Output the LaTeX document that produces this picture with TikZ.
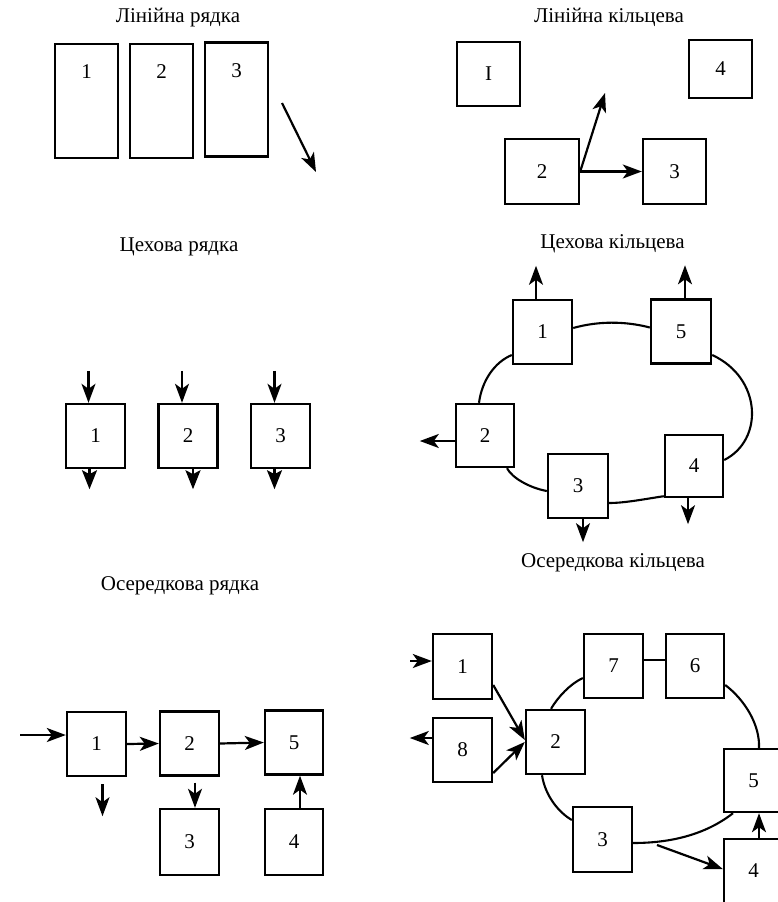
\documentclass[tikz,border=0pt]{standalone}
\usepackage{fontspec}
\setmainfont{Liberation Serif}
\usetikzlibrary{arrows.meta,calc}
\begin{document}
\begin{tikzpicture}[x=1pt,y=-1pt,
  blk/.style={draw, line width=2.4pt, inner sep=0pt, minimum width=59pt,
    minimum height=64pt, font=\fontsize{21}{21}\selectfont},
  ttl/.style={font=\fontsize{21}{24}\selectfont, inner sep=0pt},
  arr/.style={line width=2.2pt, -{Stealth[length=19pt,width=14pt,inset=5pt]}},
  outarr/.style={line width=2.2pt, -{Stealth[length=19pt,width=15pt,inset=4pt]}},
  ring/.style={line width=2.1pt},
]
\useasboundingbox (0,0) rectangle (778,902);
\clip (0,0) rectangle (778,902);

% ---------- Лінійна рядка ----------
\node[ttl] (t1) at (178,18) {Лінійна рядка};
\node[blk, minimum width=63pt, minimum height=114pt,
  label={[anchor=center,yshift=-29pt,font=\fontsize{21}{21}\selectfont]north:1}] (la1) at (86.5,101) {};
\node[blk, minimum width=63pt, minimum height=114pt,
  label={[anchor=center,yshift=-29pt,font=\fontsize{21}{21}\selectfont]north:2}] (la2) at (161.5,101) {};
\node[blk, minimum width=63pt, minimum height=114pt,
  label={[anchor=center,yshift=-29pt,font=\fontsize{21}{21}\selectfont]north:3}] (la3) at (236.5,99.5) {};
\coordinate (d1) at (282,103);
\coordinate (d2) at (316,172);
\draw[arr] (d1) -- (d2);

% ---------- Лінійна кільцева ----------
\node[ttl] (t2) at (609,17) {Лінійна кільцева};
\node[blk, minimum width=63pt, minimum height=64pt] (lb1) at (488.5,74) {I};
\node[blk, minimum width=63pt, minimum height=58pt] (lb4) at (720.5,69) {4};
\node[blk, minimum width=74pt, minimum height=65pt] (lb2) at (542,171.5) {2};
\node[blk, minimum width=63pt, minimum height=65pt] (lb3) at (674.5,171.5) {3};
\coordinate (u1) at (605,93);
\draw[arr] (lb2.east) -- (u1);
\draw[arr] (lb2.east) -- (lb3.west);

% ---------- Цехова рядка ----------
\node[ttl] (t3) at (179,247) {Цехова рядка};
\node[blk] (ma1) at (95.5,436) {1};
\node[blk] (ma2) at (188,436) {2};
\node[blk] (ma3) at (280.5,436) {3};
\foreach \n/\dx in {ma1/-7, ma2/-6, ma3/-6}{
  \draw[arr] ([xshift=\dx pt,yshift=32pt]\n.north) -- ([xshift=\dx pt]\n.north);
}
\foreach \n/\dx in {ma1/-6, ma2/5, ma3/-6}{
  \draw[outarr] ([xshift=\dx pt]\n.south) -- ++(0,20);
}

% ---------- Цехова кільцева ----------
\node[ttl] (t4) at (612.5,244) {Цехова кільцева};
\node[blk] (mb1) at (542.5,332) {1};
\node[blk, minimum width=60pt] (mb5) at (681,331.5) {5};
\node[blk, minimum width=58pt, minimum height=63pt] (mb2) at (485,435.5) {2};
\node[blk, minimum width=60pt] (mb3) at (578,486) {3};
\node[blk, minimum width=58pt, minimum height=62pt] (mb4) at (694,466) {4};
% ring
\draw[ring] ([yshift=4pt]mb1.east) .. controls (598,321) and (625,321) .. ([yshift=4pt]mb5.west);
\draw[ring] ([yshift=-23.5pt]mb5.east) .. controls (762,378) and (764,440) .. ([yshift=6pt]mb4.east);
\draw[ring] ([yshift=2pt]mb4.south west) .. controls (645,499) and (625,503) .. ([yshift=-17pt]mb3.east);
\draw[ring] ([yshift=-5pt]mb3.west) .. controls (530,488) and (512,478) .. ([xshift=22pt]mb2.south);
\draw[ring] ([xshift=-6pt]mb2.north) .. controls (482,380) and (495,362) .. ([yshift=-23pt]mb1.west);
% outputs
\draw[arr] ([xshift=-6.5pt]mb1.north) -- ++(0,-33);
\draw[arr] ([xshift=4pt]mb5.north) -- ++(0,-33);
\draw[arr] ([yshift=-5.5pt]mb2.west) -- ++(-35,0);
\draw[arr] ([xshift=5pt]mb3.south) -- ++(0,23);
\draw[arr] ([xshift=-6pt]mb4.south) -- ++(0,26);
\node[ttl] (t5) at (613,563) {Осередкова кільцева};

% ---------- Осередкова рядка ----------
\node[ttl] (t6) at (180,586) {Осередкова рядка};
\node[blk] (na1) at (96.5,744) {1};
\node[blk] (na2) at (189.5,743.5) {2};
\node[blk, minimum width=58pt] (na5) at (294,742.5) {5};
\node[blk, minimum height=66pt] (na3) at (189.5,842) {3};
\node[blk, minimum width=58pt, minimum height=66pt] (na4) at (294,842) {4};
\coordinate (in1) at (20,735);
\draw[arr] (in1) -- ([yshift=9pt]na1.west);
\draw[arr] (na1.east) -- (na2.west);
\draw[arr] (na2.east) -- (na5.west);
\draw[arr] ([xshift=6pt,yshift=-7pt]na1.south) -- ++(0,32);
\draw[arr] ([xshift=5.5pt,yshift=-6pt]na2.south) -- ([xshift=5.5pt]na3.north);
\draw[arr] ([xshift=6pt]na4.north) -- ([xshift=6pt]na5.south);

% ---------- Осередкова кільцева ----------
\node[blk, minimum height=65pt] (nb1) at (462.5,666.5) {1};
\node[blk] (nb8) at (462.5,750) {8};
\node[blk] (nb2) at (555.5,742) {2};
\node[blk] (nb7) at (613.5,666) {7};
\node[blk, minimum width=58pt] (nb6) at (695,666) {6};
\node[blk, minimum height=63pt] (nb5) at (753.5,780.5) {5};
\node[blk, minimum height=65pt] (nb3) at (602.5,839.5) {3};
\node[blk] (nb4) at (753.5,871) {4};
\coordinate (in2) at (410,661);
\coordinate (c35) at (657,845);
\draw[arr] (in2) -- ([yshift=5.5pt]nb1.west);
\draw[arr] ([yshift=12pt]nb8.west) -- ++(-22,0);
\draw[arr] ([yshift=-18.5pt]nb1.east) -- ([yshift=2pt]nb2.west);
\draw[arr] ([yshift=-23pt]nb8.east) -- (nb2.west);
\draw[ring] ([yshift=6pt]nb7.east) -- ([yshift=6pt]nb6.west);
% ring
\draw[ring] ([xshift=-4.5pt]nb2.north) .. controls (558,697) and (570,684) .. ([yshift=-12pt]nb7.west);
\draw[ring] ([yshift=-19pt]nb6.east) .. controls (745,700) and (760,725) .. ([xshift=5.5pt]nb5.north);
\draw[ring] ([xshift=-20.5pt]nb5.south) .. controls (705,835) and (670,843) .. ([yshift=-3.5pt]nb3.east);
\draw[ring] ([xshift=-13.5pt]nb2.south) .. controls (545,795) and (558,812) .. ([yshift=19.5pt]nb3.west);
\draw[arr] (c35) -- ([yshift=2pt]nb4.west);
\draw[arr] ([xshift=5.5pt]nb4.north) -- ([xshift=5.5pt]nb5.south);
\end{tikzpicture}
\end{document}
